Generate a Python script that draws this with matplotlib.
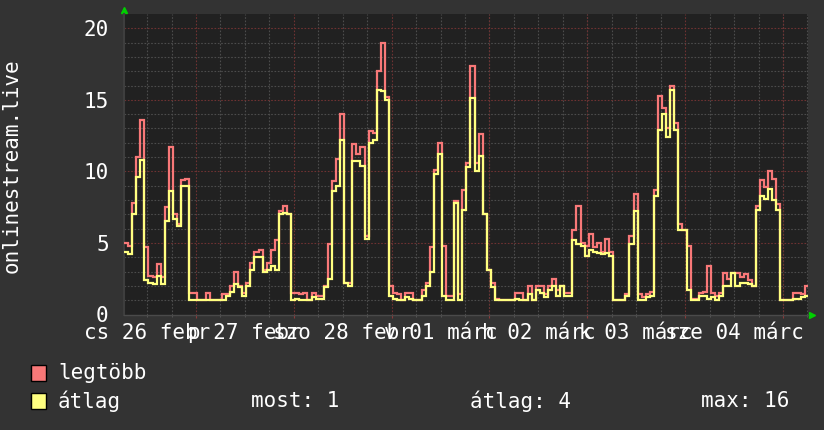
import matplotlib
matplotlib.use("Agg")
import matplotlib.pyplot as plt
import numpy as np
from matplotlib.patches import Rectangle

plt.rcParams["font.family"] = ["DejaVu Sans Mono"]

# hourly samples, starting ~06:20 on Feb 26
avg_viewers = [
    4.4, 4.2, 7.0, 9.6, 10.8, 2.4, 2.2, 2.1, 2.7, 2.1,
    6.5, 8.6, 6.7, 6.2, 9.0, 9.0, 1.0, 1.0, 1.0, 1.0,
    1.0, 1.0, 1.0, 1.0, 1.0, 1.3, 1.6, 2.1, 1.9, 1.3,
    2.0, 3.1, 4.0, 4.0, 3.0, 3.1, 3.4, 3.1, 7.0, 7.1,
    7.0, 1.0, 1.05, 1.0, 1.0, 1.0, 1.2, 1.1, 1.1, 1.9,
    2.5, 8.6, 9.0, 12.2, 2.2, 2.0, 10.7, 10.7, 10.4, 5.3,
    12.0, 12.2, 15.7, 15.6, 15.0, 1.3, 1.1, 1.0, 1.0, 1.2,
    1.1, 1.0, 1.0, 1.3, 2.0, 3.0, 9.8, 11.2, 1.3, 1.0,
    1.0, 7.8, 1.0, 7.3, 10.3, 15.1, 10.0, 11.1, 7.0, 3.1,
    1.9, 1.0, 1.0, 1.0, 1.0, 1.0, 1.1, 1.0, 1.0, 1.4,
    1.0, 1.7, 1.5, 1.2, 1.7, 2.0, 1.3, 2.0, 1.3, 1.3,
    5.2, 4.9, 4.8, 4.1, 4.5, 4.4, 4.3, 4.2, 4.3, 4.1,
    1.0, 1.0, 1.0, 1.3, 4.9, 7.2, 1.0, 1.0, 1.2, 1.3,
    8.3, 12.9, 14.0, 12.4, 15.7, 12.9, 5.9, 5.9, 1.7, 1.0,
    1.0, 1.3, 1.3, 1.1, 1.2, 1.0, 1.3, 2.0, 2.0, 2.9,
    2.0, 2.2, 2.2, 2.1, 2.0, 7.3, 8.3, 8.1, 8.8, 8.0,
    7.3, 1.0, 1.0, 1.0, 1.1, 1.1, 1.2, 1.3,
]
max_viewers = [
    5.0, 4.8, 7.8, 11.0, 13.6, 4.7, 2.7, 2.6, 3.5, 2.6,
    7.5, 11.7, 7.0, 6.3, 9.4, 9.5, 1.5, 1.5, 1.0, 1.0,
    1.5, 1.0, 1.0, 1.0, 1.4, 1.4, 2.0, 3.0, 2.0, 1.5,
    2.2, 3.6, 4.4, 4.5, 3.1, 3.6, 4.5, 5.2, 7.2, 7.6,
    7.0, 1.5, 1.5, 1.4, 1.5, 1.0, 1.5, 1.3, 1.3, 2.0,
    4.9, 9.3, 10.9, 14.0, 2.2, 2.2, 11.9, 11.2, 11.7, 5.5,
    12.8, 12.7, 17.0, 19.0, 15.2, 2.0, 1.5, 1.4, 1.0, 1.5,
    1.5, 1.0, 1.0, 1.7, 2.2, 4.7, 10.1, 12.0, 4.8, 1.3,
    1.3, 7.9, 1.4, 8.7, 10.6, 17.4, 10.6, 12.6, 7.0, 3.1,
    2.2, 1.1, 1.0, 1.0, 1.0, 1.0, 1.5, 1.5, 1.0, 2.0,
    1.0, 2.0, 2.0, 1.4, 2.0, 2.5, 1.7, 2.0, 1.5, 1.5,
    5.9, 7.6, 5.0, 4.8, 5.6, 4.7, 5.0, 4.4, 5.3, 4.4,
    1.0, 1.0, 1.0, 1.4, 5.5, 8.4, 1.4, 1.2, 1.4, 1.6,
    8.7, 15.3, 14.4, 13.0, 16.0, 13.4, 6.3, 5.9, 4.8, 1.1,
    1.1, 1.5, 1.6, 3.4, 1.5, 1.3, 1.5, 2.9, 2.5, 2.9,
    2.9, 2.6, 2.8, 2.4, 2.0, 7.6, 9.4, 8.9, 10.0, 9.5,
    7.7, 1.0, 1.0, 1.0, 1.5, 1.5, 1.4, 2.0,
]
day_labels = ["cs 26 febr", "p 27 febr", "szo 28 febr", "v 01 márc",
              "h 02 márc", "k 03 márc", "sze 04 márc"]
series_names = ["legtöbb", "átlag"]
stat_texts = ["most: 1", "átlag: 4", "max: 16"]
y_title = "onlinestream.live"

first_midnight = 17.66   # hours after the left edge
span_hours = 167.8
y_top = 21.0

RED = "#f87878"
YELLOW = "#ffff80"
TXT = "white"
FS = 15

fig = plt.figure(figsize=(8.24, 4.30), dpi=100, facecolor="#333333")
ax = fig.add_axes([124 / 824, (430 - 314.5) / 430, 684 / 824, (314.5 - 14) / 430])
ax.set_facecolor("#212121")
ax.set_xlim(0, span_hours)
ax.set_ylim(0, y_top)

# grid
minor_x = np.arange(first_midnight - 12, span_hours, 6)
major_x = np.arange(first_midnight, span_hours, 24)
for v in np.arange(1, 21):
    if v % 5:
        ax.axhline(v, color="#4c4c4c", lw=0.8, ls=(0, (1.5, 1.5)), zorder=1)
for v in minor_x:
    if v not in major_x:
        ax.axvline(v, color="#4c4c4c", lw=0.8, ls=(0, (1.5, 1.5)), zorder=1)
for v in [5, 10, 15, 20]:
    ax.axhline(v, color="#6e3232", lw=0.8, ls=(0, (1.5, 1.5)), zorder=1.1)
for v in major_x:
    ax.axvline(v, color="#6e3232", lw=0.8, ls=(0, (1.5, 1.5)), zorder=1.1)

# small ticks under the axis
xt = ax.get_xaxis_transform()
ax.vlines(minor_x, -0.008, 0, color="#555555", lw=0.8, transform=xt, clip_on=False)
ax.vlines(major_x, -0.012, 0, color="#8a3a3a", lw=0.8, transform=xt, clip_on=False)

edges = np.arange(len(avg_viewers) + 1)
ax.stairs(max_viewers, edges, baseline=None, color=RED, lw=1.6, zorder=3)
ax.stairs(avg_viewers, edges, baseline=None, color=YELLOW, lw=1.6, zorder=4)

for side in ["top", "right"]:
    ax.spines[side].set_visible(False)
ax.spines["left"].set_color("#3e3e3e")
ax.spines["left"].set_linewidth(1.5)
ax.spines["bottom"].set_color("#4a4a4a")
ax.spines["bottom"].set_linewidth(1.0)

ax.set_yticks([0, 5, 10, 15, 20])
ax.tick_params(axis="y", length=0, pad=11, labelsize=FS, labelcolor=TXT)
ax.set_xticks(np.arange(first_midnight - 12, span_hours, 24), day_labels)
ax.tick_params(axis="x", length=0, pad=6, labelsize=FS, labelcolor=TXT)

# green axis arrows
ax.plot([0], [1.012], marker="^", color="#00d000", ms=5, transform=ax.transAxes, clip_on=False)
ax.plot([1.006], [0], marker=">", color="#00d000", ms=5, transform=ax.transAxes, clip_on=False)

fig.text(12 / 824, 1 - 166 / 430, y_title, rotation=90, ha="center", va="center",
         color=TXT, fontsize=FS)

# legend
for i, (name, col) in enumerate(zip(series_names, [RED, YELLOW])):
    yc = 373 + 28 * i
    fig.patches.append(Rectangle((31 / 824, 1 - (yc + 8) / 430), 15 / 824, 16 / 430,
                                 facecolor=col, edgecolor="black", lw=1,
                                 transform=fig.transFigure))
    fig.text(58 / 824, 1 - yc / 430, name, va="center", color=TXT, fontsize=FS)
for txt, x in zip(stat_texts, [251, 470, 701]):
    fig.text(x / 824, 1 - 401 / 430, txt, va="center", color=TXT, fontsize=FS)

fig.savefig("out.png", dpi=100, facecolor=fig.get_facecolor())
